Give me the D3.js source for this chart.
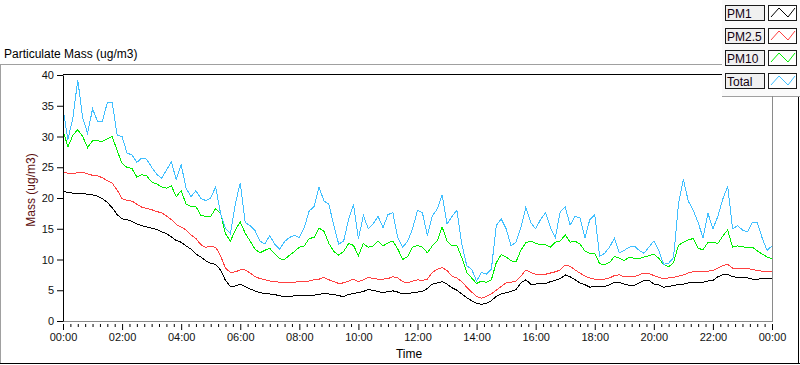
<!DOCTYPE html>
<html><head><meta charset="utf-8">
<script src="https://cdn.jsdelivr.net/npm/d3@7"></script>
<style>
body{margin:0;background:#fff;}
svg{display:block;font-family:"Liberation Sans",Arial,sans-serif;}
</style>
</head><body><svg id="c" width="800" height="365"></svg>
<script>
// ---- data (10-minute samples, 00:00 .. 24:00) ----
const stepMinutes = 10;
const timeLabels = ["00:00","02:00","04:00","06:00","08:00","10:00","12:00","14:00","16:00","18:00","20:00","22:00","00:00"];
const yTickValues = [0,5,10,15,20,25,30,35,40];
const seriesNames = ["PM1","PM2.5","PM10","Total"];

const pm1 = [21.1,20.9,20.8,20.8,20.8,20.6,20.5,20.3,19.9,19.3,18.4,17.3,16.6,16.5,16.2,15.8,15.5,15.3,15.1,14.9,14.5,14.2,13.7,13.1,12.8,12.2,11.7,10.9,10.4,9.8,9.4,9.2,8.3,6.6,5.6,5.7,6.0,
5.6,5.2,4.9,4.6,4.5,4.4,4.3,4.1,4.0,4.0,4.1,4.1,4.1,4.2,4.2,4.3,4.5,4.4,4.3,4.1,4.0,4.3,4.5,4.6,4.8,5.1,5.0,4.8,4.6,4.8,4.9,4.7,4.4,4.4,4.6,4.7,
4.8,5.3,6.0,6.2,6.4,6.0,5.4,5.0,4.4,3.8,3.3,2.9,2.7,2.9,3.3,4.0,4.4,4.6,4.8,5.1,6.2,6.7,6.0,6.0,6.1,6.1,6.4,6.6,6.9,7.5,7.2,6.7,6.2,5.9,5.5,5.6,5.6,
5.6,5.9,6.3,6.3,6.0,5.8,5.8,6.2,6.6,6.6,6.0,5.9,5.5,5.6,5.8,5.9,6.0,6.2,6.2,6.3,6.3,6.5,6.6,7.2,7.5,7.6,7.2,7.1,7.1,7.0,6.8,6.8,6.9,6.9,6.9];

const pm25 = [24.3,24.0,24.0,24.1,24.2,23.9,23.7,23.6,23.3,22.8,22.4,21.3,19.9,19.6,19.5,19.0,18.5,18.3,18.1,17.8,17.6,17.1,16.5,15.7,15.3,14.8,14.0,13.4,12.4,12.0,12.1,12.0,10.6,8.6,7.9,8.0,8.3,
8.3,7.8,7.2,6.9,6.7,6.5,6.4,6.3,6.2,6.2,6.3,6.4,6.5,6.5,6.7,6.8,7.1,6.7,6.4,6.1,6.2,6.5,6.8,6.4,6.7,7.1,6.9,6.8,6.8,6.9,7.2,7.0,6.4,6.2,6.5,6.7,
6.6,6.8,7.9,8.4,8.7,8.2,7.3,7.0,6.4,5.5,4.7,4.0,3.7,4.0,4.4,5.0,5.6,6.2,6.3,6.5,7.3,8.3,7.9,7.6,7.6,7.6,7.8,8.0,8.3,9.1,8.9,8.3,7.8,7.3,7.0,6.8,6.7,
6.8,7.0,7.4,7.5,7.2,7.2,7.2,7.5,7.8,7.7,7.4,7.1,6.9,7.0,7.1,7.3,7.5,7.8,8.0,8.0,8.0,8.1,8.2,8.6,9.0,9.2,8.6,8.5,8.5,8.5,8.4,8.2,8.1,8.0,8.0];

const pm10 = [31.0,28.3,30.2,31.1,30.0,28.2,29.3,29.3,29.2,29.6,30.0,27.7,25.6,25.0,24.8,23.4,23.8,23.6,22.6,22.3,21.8,21.6,22.0,20.2,21.2,19.0,18.6,18.6,17.2,17.0,17.0,18.3,17.5,14.2,13.0,14.8,16.1,
14.3,13.0,11.7,11.1,11.5,11.8,10.9,10.1,10.0,10.7,11.3,12.0,12.2,13.4,13.6,15.1,14.6,12.6,11.3,10.7,11.3,12.6,12.3,10.6,12.6,12.0,12.2,13.0,12.2,12.7,13.0,11.7,10.0,10.5,12.0,12.3,
12.0,11.1,12.2,13.0,15.3,13.0,12.2,12.3,10.3,7.9,7.0,6.1,6.5,6.3,6.7,9.5,10.8,10.4,9.8,9.6,11.5,12.7,13.0,12.6,12.4,12.4,12.0,12.8,13.0,14.0,12.8,13.0,12.5,11.4,11.0,11.0,9.3,
9.2,9.5,10.5,10.2,9.8,10.4,10.2,10.1,10.4,10.6,10.9,10.2,9.2,8.8,9.5,12.3,12.8,13.2,13.4,11.8,11.6,12.8,12.8,12.6,13.8,14.8,12.0,12.2,12.1,11.9,12.0,11.4,10.9,10.4,10.1];

const total = [34.5,29.5,33.0,39.2,33.0,30.5,34.5,32.5,32.5,35.5,35.5,30.2,30.0,27.3,27.0,25.8,26.5,26.3,25.0,23.9,23.2,24.5,25.9,23.0,25.4,21.6,20.2,21.2,19.9,19.6,20.0,21.8,17.5,15.1,14.2,19.0,22.5,
16.0,15.5,14.7,13.0,12.5,13.9,12.5,11.7,12.9,13.6,13.9,13.6,15.2,17.9,18.6,21.8,19.5,19.0,15.5,12.5,13.0,16.5,19.0,13.3,17.2,15.0,15.8,17.0,15.2,17.3,17.6,13.5,12.0,13.0,15.0,18.0,
17.6,13.9,17.1,18.2,20.5,15.8,17.0,18.0,12.5,9.0,8.4,6.5,7.9,7.6,8.4,15.5,16.6,15.0,12.2,12.8,15.2,18.5,16.0,15.0,16.5,17.6,15.2,13.6,17.8,18.5,15.6,17.0,16.8,13.5,16.5,17.3,10.5,
11.0,12.0,13.5,11.1,11.5,12.0,12.2,11.5,11.0,12.0,13.0,11.5,9.2,9.4,10.3,19.0,23.0,19.5,18.0,16.0,13.5,17.5,15.0,17.0,19.8,21.9,15.0,15.5,14.8,14.5,16.0,16.0,13.5,11.5,12.2];

const seriesData = [pm1, pm25, pm10, total];
const seriesColors = ["#000000", "#ff4040", "#00f000", "#40bfff"];

// ---- layout ----
const svg = d3.select("#c");
const L = 63, R = 772, T = 75, B = 321;
const x = d3.scaleLinear().domain([0, 1440]).range([L, R]);
const y = d3.scaleLinear().domain([0, 40]).range([B, T]);
const tickColor = "#111";

// outer frame
svg.append("line").attr("x1",0).attr("x2",722).attr("y1",64.5).attr("y2",64.5).attr("stroke","#a0a0a0");
svg.append("line").attr("x1",0.5).attr("x2",0.5).attr("y1",64).attr("y2",364).attr("stroke","#a0a0a0");
svg.append("line").attr("x1",0).attr("x2",800).attr("y1",363.5).attr("y2",363.5).attr("stroke","#000");
svg.append("line").attr("x1",798.5).attr("x2",798.5).attr("y1",64).attr("y2",364).attr("stroke","#000");

// title
svg.append("text").attr("x",4).attr("y",58).attr("font-size",12).attr("fill","#000").text("Particulate Mass (ug/m3)");

// plot frame: top/left black, bottom/right gray
svg.append("line").attr("x1",L).attr("x2",722).attr("y1",74.5).attr("y2",74.5).attr("stroke","#000");
svg.append("line").attr("x1",R+0.5).attr("x2",R+0.5).attr("y1",74).attr("y2",B+1).attr("stroke","#8a8a8a");
svg.append("line").attr("x1",L).attr("x2",R+1).attr("y1",B+0.5).attr("y2",B+0.5).attr("stroke","#8a8a8a");

// series
const line = d3.line().x((d,i)=>x(i*stepMinutes)).y(d=>y(d));
const g = svg.append("g");
seriesData.forEach((arr, k) => {
  g.append("path").datum(arr).attr("d", line).attr("fill","none")
   .attr("stroke", seriesColors[k]).attr("stroke-width",1).attr("shape-rendering","crispEdges");
});

// y axis
const yAxis = svg.append("g").attr("transform",`translate(${L},0)`)
  .call(d3.axisLeft(y).tickValues(yTickValues).tickSize(6).tickPadding(3).tickSizeOuter(0));
yAxis.select(".domain").attr("stroke","#000");
yAxis.selectAll(".tick line").attr("stroke","#000");
yAxis.selectAll("text").attr("font-size",11).attr("font-family","Liberation Sans, Arial, sans-serif").attr("fill",tickColor);

// x axis minor ticks (15 min)
const minor = d3.range(0,1441,15).filter(m => m % 120 !== 0);
const xMinor = svg.append("g").attr("transform",`translate(0,${B+3})`)
  .call(d3.axisBottom(x).tickValues(minor).tickSize(3).tickFormat(""));
xMinor.select(".domain").remove();
xMinor.selectAll(".tick line").attr("stroke","#000");
// x axis major ticks
const xMajor = svg.append("g").attr("transform",`translate(0,${B+3})`)
  .call(d3.axisBottom(x).tickValues(d3.range(0,1441,120)).tickSize(6).tickPadding(3)
        .tickFormat((d,i)=>timeLabels[i]));
xMajor.select(".domain").remove();
xMajor.selectAll(".tick line").attr("stroke","#000");
xMajor.selectAll("text").attr("font-size",11).attr("font-family","Liberation Sans, Arial, sans-serif").attr("fill",tickColor);

// axis titles
svg.append("text").attr("x",409).attr("y",358).attr("text-anchor","middle").attr("font-size",12).attr("fill","#000").text("Time");
svg.append("text").attr("transform","translate(35,190) rotate(-90)").attr("text-anchor","middle")
  .attr("font-size",12).attr("fill","#5c1010").text("Mass (ug/m3)");

// legend panel
const lg = svg.append("g");
lg.append("rect").attr("x",722).attr("y",0).attr("width",78).attr("height",97).attr("fill","#fafafa");
lg.append("line").attr("x1",722).attr("x2",800).attr("y1",96.5).attr("y2",96.5).attr("stroke","#a0a0a0");
lg.append("line").attr("x1",R+0.5).attr("x2",R+0.5).attr("y1",96).attr("y2",100).attr("stroke","#8a8a8a");
seriesNames.forEach((name, k) => {
  const y0 = Math.round(5 + k*22.7);
  lg.append("rect").attr("x",725.5).attr("y",y0+0.5).attr("width",39).attr("height",15)
    .attr("fill","#f0f0f0").attr("stroke","#1a1a1a");
  lg.append("text").attr("x",727).attr("y",y0+12.5).attr("font-size",12).attr("fill","#100010").text(name);
  lg.append("rect").attr("x",768.5).attr("y",y0+0.5).attr("width",28).attr("height",15)
    .attr("fill","#fff").attr("stroke","#1a1a1a");
  lg.append("path").attr("d",`M771,${y0+12} L779,${y0+3} L788,${y0+12} L795,${y0+3}`)
    .attr("fill","none").attr("stroke",seriesColors[k]).attr("stroke-width",1);
});
</script>
</body></html>
